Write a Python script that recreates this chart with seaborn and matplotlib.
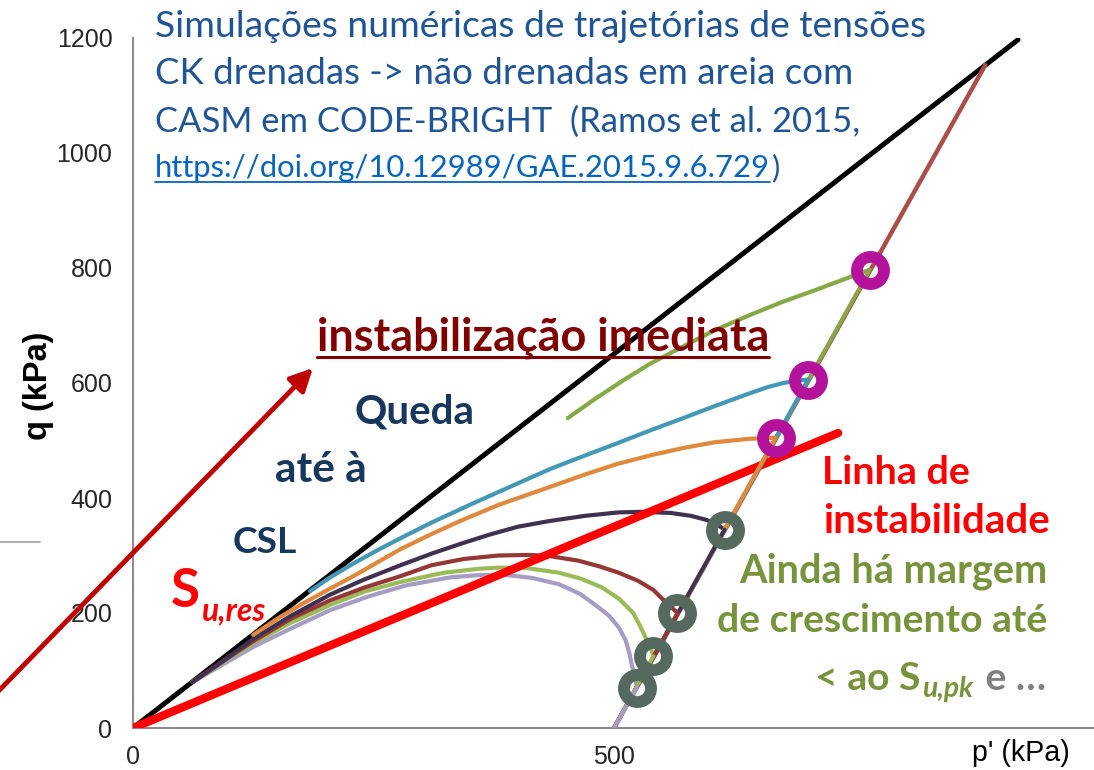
import numpy as np
import matplotlib
matplotlib.use("Agg")
import matplotlib.pyplot as plt
import seaborn as sns
from matplotlib.lines import Line2D

# ---------------- data (p' , q in kPa) ----------------
csl_p = [0, 920]
csl_q = [0, 1197]
inst_p = [0, 733]
inst_q = [0, 513]

drained_origin_p = [500]
drained_origin_q = [0]
top_drained_p = [500, 886]
top_drained_q = [0, 1153]

lav_p = [524, 522, 519, 516, 512, 505, 495, 483, 465, 443, 415, 388, 360, 330,
         284, 245, 205, 164, 125, 95, 62]
lav_q = [70, 90, 106, 130, 153, 175, 195, 211, 233, 250, 261, 266, 266, 262,
         248, 229, 205, 173, 141, 112, 80]

grn_p = [541, 538, 534, 527, 520, 505, 487, 465, 443, 410, 380, 360, 323, 278,
         240, 205, 164, 125, 95, 62]
grn_q = [125, 140, 153, 178, 200, 225, 245, 260, 270, 278, 279, 277, 270, 254,
         237, 214, 183, 148, 116, 80]

brn_p = [566, 559, 550, 541, 525, 505, 485, 463, 433, 412, 380, 344, 310, 278,
         240, 205, 164, 125, 95, 62]
brn_q = [200, 211, 225, 240, 256, 270, 281, 291, 299, 301, 300, 294, 283, 264,
         244, 222, 190, 151, 118, 80]

dpu_p = [615, 607, 596, 580, 559, 530, 505, 470, 433, 400, 370, 340, 310, 278,
         240, 205, 164, 125, 95, 62]
dpu_q = [345, 354, 362, 369, 374, 376, 375, 369, 360, 350, 336, 320, 303, 283,
         258, 232, 195, 155, 118, 80]

org_p = [668, 641, 605, 572, 540, 503, 470, 433, 380, 340, 310, 278, 255, 230,
         200, 175, 150, 125]
org_q = [505, 503, 497, 487, 475, 459, 441, 419, 388, 360, 337, 311, 289, 265,
         238, 215, 190, 162]

tea_p = [702, 690, 676, 660, 641, 605, 572, 540, 503, 470, 433, 390, 350, 310,
         278, 255, 230, 205, 184]
tea_q = [606, 604, 600, 593, 582, 560, 539, 519, 495, 474, 450, 418, 388, 357,
         330, 310, 287, 262, 238]

olv_p = [766, 745, 710, 675, 641, 605, 570, 537, 510, 480, 452]
olv_q = [797, 784, 762, 741, 718, 692, 662, 633, 605, 572, 539]

arrow_start = (-151, 45)
arrow_end = (187, 626)

ytick_vals = [0, 200, 400, 600, 800, 1000, 1200]
xtick_vals = [0, 500]

paths = [
    (lav_p, lav_q, "#A69CC4", "grey"),
    (grn_p, grn_q, "#9BBB59", "grey"),
    (brn_p, brn_q, "#953735", "grey"),
    (dpu_p, dpu_q, "#403151", "grey"),
    (org_p, org_q, "#E0893D", "mag"),
    (tea_p, tea_q, "#4298B5", "mag"),
    (olv_p, olv_q, "#86A847", "mag"),
]
ring_cols = {"grey": "#55695E", "mag": "#B5129B"}

# ---------------- figure ----------------
sns.set_style("white")
plt.rcParams["font.family"] = ["Liberation Sans", "DejaVu Sans"]

W, H = 1094, 770
fig = plt.figure(figsize=(W / 100, H / 100), dpi=100)
ax = fig.add_axes([133 / W, 42 / H, 961 / W, 690 / H])
ax.set_xlim(0, 999)
ax.set_ylim(0, 1200)

# CSL
sns.lineplot(x=csl_p, y=csl_q, color="black", linewidth=3.6, ax=ax, zorder=1)
# undrained paths
for p, q, c, _ in paths:
    sns.lineplot(x=p, y=q, sort=False, estimator=None, color=c,
                 linewidth=3.0, ax=ax, zorder=2,
                 solid_joinstyle="round", solid_capstyle="round")
# instability line
sns.lineplot(x=inst_p, y=inst_q, color="#FF0000", linewidth=6.0, ax=ax, zorder=3)
# drained paths (top one first so lower segments stay visible)
sns.lineplot(x=top_drained_p, y=top_drained_q, color="#A94E49",
             linewidth=3.2, ax=ax, zorder=4)
for p, q, c, _ in reversed(paths):
    sns.lineplot(x=[drained_origin_p[0], p[0]], y=[drained_origin_q[0], q[0]],
                 color=c, linewidth=2.8, ax=ax, zorder=4)
# rings at start of undrained paths
for p, q, c, kind in paths:
    ax.plot([p[0]], [q[0]], linestyle="", marker="o", markersize=19.5,
            markerfacecolor="none", markeredgecolor=ring_cols[kind],
            markeredgewidth=8.5, zorder=6, clip_on=False)

# arrow
ann = ax.annotate("", xy=arrow_end, xytext=arrow_start, xycoords="data",
                  annotation_clip=False,
                  arrowprops=dict(arrowstyle="-|>", color="#C00000", lw=3.5,
                                  mutation_scale=34, shrinkA=0, shrinkB=0))
ann.arrow_patch.set_clip_on(False)

# axes styling
for s in ["top", "right"]:
    ax.spines[s].set_visible(False)
for s in ["left", "bottom"]:
    ax.spines[s].set_color("#8C8C8C")
    ax.spines[s].set_linewidth(1.5)
ax.set_yticks(ytick_vals)
ax.set_yticklabels([str(v) for v in ytick_vals])
ax.set_xticks(xtick_vals)
ax.set_xticklabels([str(v) for v in xtick_vals])
ax.tick_params(axis="y", direction="inout", length=8.6, width=1.3,
               color="#8C8C8C", labelsize=18, pad=10.5)
ax.tick_params(axis="x", direction="out", length=5, width=1.3,
               color="#8C8C8C", labelsize=18, pad=7)
ax.set_xlabel("")
ax.set_ylabel("")

r = fig.canvas.get_renderer()


def fx(X):
    return X / W


def fy(Y):
    return 1 - Y / H


def put(s, X, Yb, width=None, size=28, color="black", weight="normal",
        style="normal", family="Lato", height=None, **kw):
    t = fig.text(fx(X), fy(Yb), s, fontsize=size, color=color,
                 fontweight=weight, fontstyle=style,
                 family=[family, "DejaVu Sans"], ha=kw.pop("ha", "left"),
                 va=kw.pop("va", "baseline"), **kw)
    if width is not None:
        w = t.get_window_extent(r).width
        t.set_fontsize(size * width / w)
    if height is not None:
        h = t.get_window_extent(r).height
        t.set_fontsize(size * height / h)
    return t


def underline(t, Y, color, lw):
    bb = t.get_window_extent(r)
    fig.add_artist(Line2D([bb.x0 / W, bb.x1 / W], [fy(Y), fy(Y)],
                          transform=fig.transFigure, color=color, lw=lw))


def right_of(t, gap=0):
    return t.get_window_extent(r).x1 + gap


# axis labels
put("q (kPa)", 38, 386, height=108, size=22, weight="bold",
    family="Liberation Sans", rotation=90, ha="center", va="center")
put("p' (kPa)", 972, 761, width=98, size=20, family="Liberation Sans")

# title block
tc = "#1F5597"
put("Simulações numéricas de trajetórias de tensões", 155, 37, width=768, size=26, color=tc)
put("CK drenadas -> não drenadas em areia com", 155, 84, width=697, size=26, color=tc)
put("CASM em CODE-BRIGHT  (Ramos et al. 2015,", 155, 132, width=705, size=26, color=tc)
url = put("https://doi.org/10.12989/GAE.2015.9.6.729", 155, 177, width=615,
          size=20, color="#0563C1")
underline(url, 182, "#0563C1", 1.3)
put(")", right_of(url, 2), 177, size=url.get_fontsize(), color=tc)

# annotations
t = put("instabilização imediata", 317, 350, width=453, size=28,
        color="#800000", weight="bold")
underline(t, 357, "#800000", 2.2)

nav = "#17375E"
put("Queda", 355, 424, width=120, size=28, color=nav, weight="bold")
put("até à", 275, 482, width=92, size=28, color=nav, weight="bold")
put("CSL", 233, 553, width=64, size=28, color=nav, weight="bold")

s1 = put("S", 171, 607, width=29, size=30, color="#FF0000", weight="bold")
put("u,res", right_of(s1, 2), 620, width=64, size=22, color="#FF0000",
    weight="bold", style="italic")

put("Linha de", 822, 484, width=148, size=28, color="#FF0000", weight="bold")
put("instabilidade", 823, 533, width=226, size=28, color="#FF0000", weight="bold")

gc = "#77933C"
put("Ainda há margem", 739, 582, width=309, size=28, color=gc, weight="bold")
d = put("de crescimento até", 717, 632, width=331, size=28, color=gc, weight="bold")
fs = d.get_fontsize()
a = put("< ao S", 815, 690, size=fs, color=gc, weight="bold")
b = put("u,pk", right_of(a, 2), 697, size=fs * 0.72, color=gc, weight="bold",
        style="italic")
put(" e …", right_of(b, 2), 690, size=fs, color="#808080", weight="bold")

# small grey stroke at the left edge
fig.add_artist(Line2D([0, 40 / W], [fy(542), fy(542)], transform=fig.transFigure,
                      color="#A0A0A0", lw=1.2))

fig.savefig("out.png", dpi=100)
